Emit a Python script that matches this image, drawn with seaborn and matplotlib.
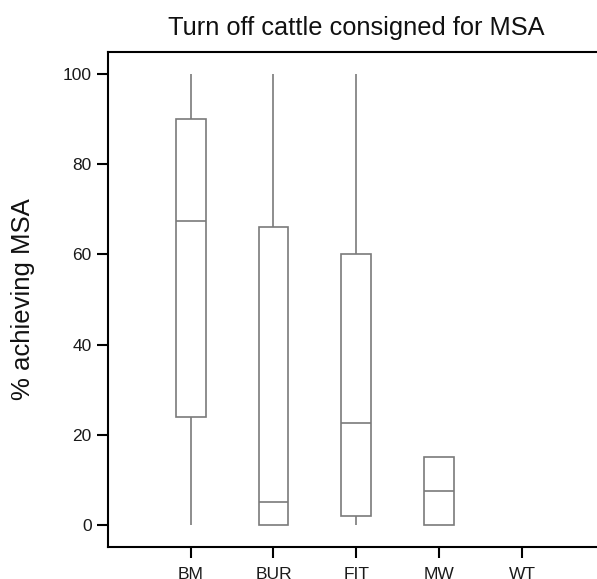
import matplotlib
matplotlib.use("Agg")
import matplotlib.pyplot as plt
import seaborn as sns
import pandas as pd

# Per-site summary values: minimum, lower quartile, median, upper quartile, maximum
sites = ["BM", "BUR", "FIT", "MW", "WT"]
bm = [0, 24, 67.5, 90, 100]
bur = [0, 0, 5, 66, 100]
fit = [0, 2, 22.5, 60, 100]
mw = [0, 0, 7.5, 15, 15]
wt = []

title = "Turn off cattle consigned for MSA"
ylabel = "% achieving MSA"
yticks = [0, 20, 40, 60, 80, 100]

rows = []
for site, vals in zip(sites, [bm, bur, fit, mw, wt]):
    rows += [{"site": site, "pct": v} for v in vals]
df = pd.DataFrame(rows)

sns.set_theme(style="ticks")
plt.rcParams["font.family"] = ["Liberation Sans", "DejaVu Sans"]

fig = plt.figure(figsize=(5.97, 5.79), dpi=100)
ax = fig.add_axes([0.1804, 0.0547, 0.8330, 0.856])

box_color = "#7a7a7a"
line_kw = dict(color=box_color, linewidth=1.2)
sns.boxplot(
    data=df, x="site", y="pct", order=sites, ax=ax,
    whis=(0, 100), width=0.36, showcaps=False, showfliers=False,
    boxprops=dict(facecolor="white", edgecolor=box_color, linewidth=1.2),
    whiskerprops=line_kw, medianprops=line_kw, capprops=line_kw,
)

ax.set_xlim(-1, 5)
ax.set_ylim(-5, 105)
ax.set_yticks(yticks)
ax.set_xlabel("")
ax.set_ylabel(ylabel, fontsize=18.5, labelpad=20, color="#111111")
ax.set_title(title, fontsize=18.3, pad=12, color="#111111")

for side in ["left", "bottom", "top"]:
    ax.spines[side].set_visible(True)
    ax.spines[side].set_color("black")
    ax.spines[side].set_linewidth(1.5)
ax.spines["right"].set_visible(False)

ax.tick_params(axis="both", direction="out", length=8, width=1.5,
               color="black", labelsize=12.5, labelcolor="#1a1a1a")
ax.tick_params(axis="x", pad=6)

fig.savefig("out.png", dpi=100, facecolor="white")
